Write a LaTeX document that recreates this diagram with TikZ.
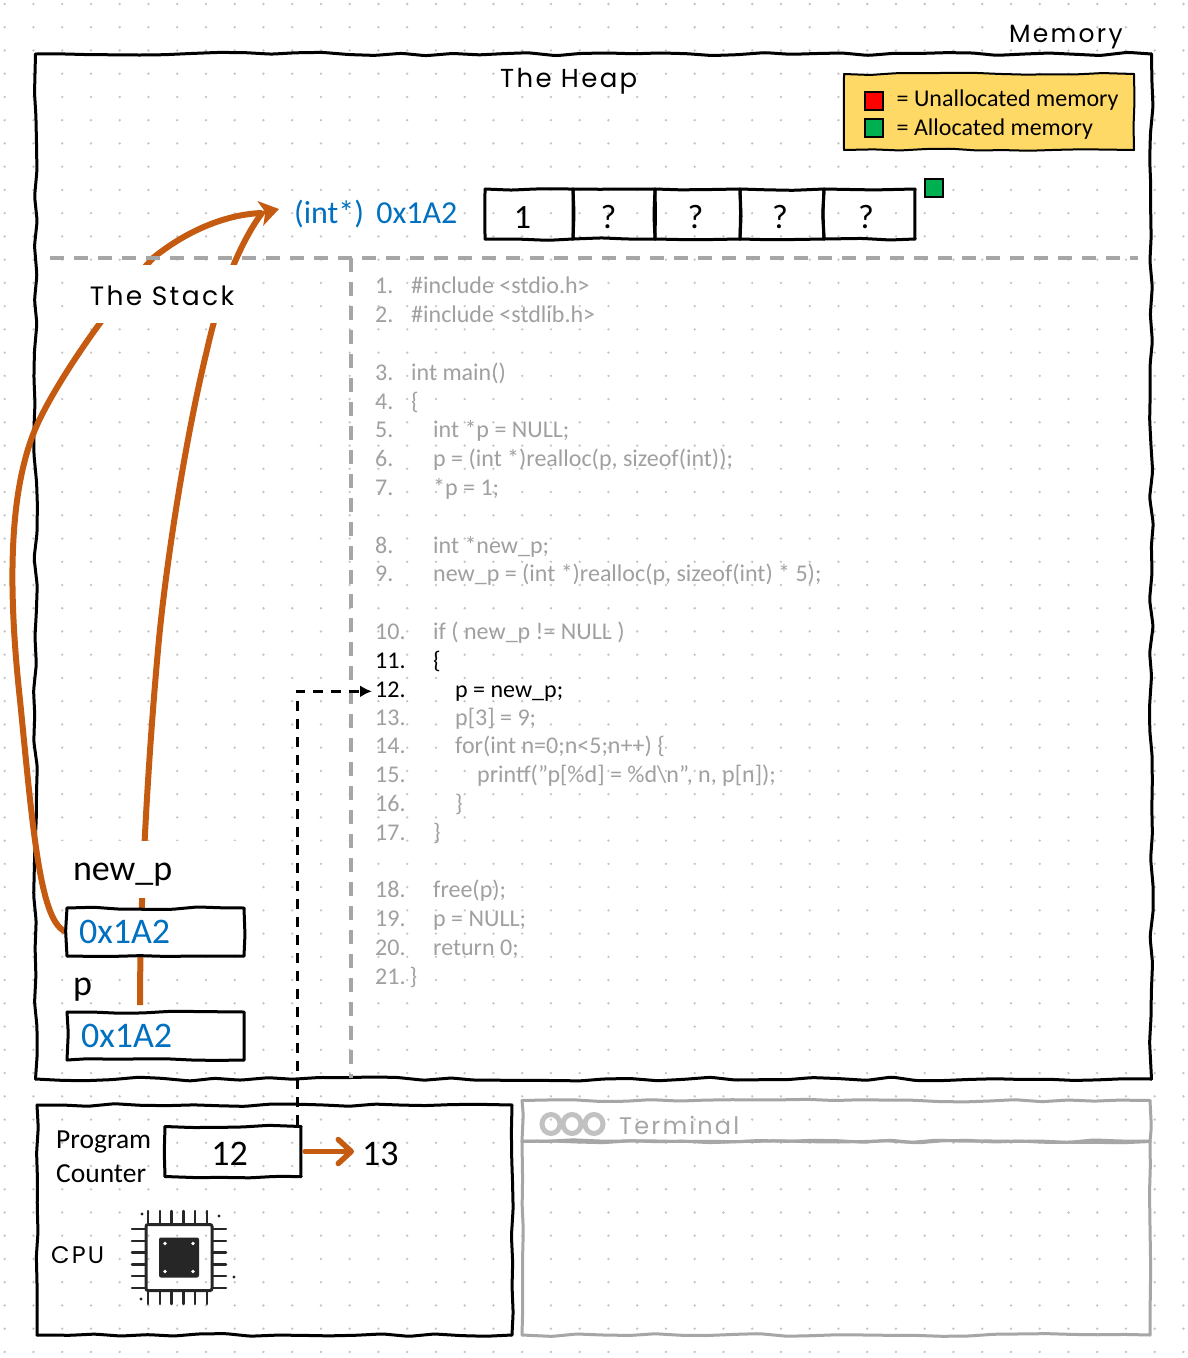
\documentclass[tikz,border=0pt]{standalone}
\usepackage{fontspec}
\setmainfont{Carlito}
\newfontfamily\sketchfont[LetterSpace=9]{Poppins}
\usetikzlibrary{arrows.meta, decorations.pathmorphing, positioning}
\definecolor{pointerorange}{HTML}{C55A11}
\definecolor{addressblue}{HTML}{0070C0}
\definecolor{dividergray}{HTML}{A6A6A6}
\definecolor{codegray}{HTML}{A0A0A0}
\definecolor{griddotgray}{HTML}{C4C4C4}
\definecolor{legendyellow}{HTML}{FFD966}
\definecolor{allocgreen}{HTML}{00B050}
\tikzstyle{griddot}=[fill=griddotgray]
\tikzstyle{wobble}=[line width=3pt, line cap=round, decorate, rounded corners=3pt,
  decoration={random steps, segment length=26pt, amplitude=1.4pt}]
\tikzstyle{sketchbox}=[inner sep=0pt, outer sep=0pt]
\tikzstyle{memcell}=[sketchbox, minimum height=50pt, text height=28pt, text depth=0pt, font=\fontsize{34}{34}\selectfont]
\tikzstyle{stackbox}=[sketchbox, fill=white, text=addressblue, align=left, text width=153pt,
  inner xsep=12pt, minimum height=48pt, font=\fontsize{36}{36}\selectfont]
\tikzstyle{sketchtext}=[inner sep=0pt, anchor=base west, font=\sketchfont\fontsize{24}{24}\selectfont]
\tikzstyle{codeline}=[inner sep=0pt, anchor=base west, font=\fontsize{24}{24}\selectfont]
\tikzstyle{pointer}=[draw=pointerorange, line width=6pt]
\tikzstyle{divider}=[draw=dividergray, line width=4pt, dash pattern=on 14pt off 10pt]
\tikzstyle{square}=[draw, line width=2pt, minimum size=18pt, inner sep=0pt]
\tikzstyle{chippin}=[line width=2.5pt, line cap=round, draw=black!85]
\newcommand{\wobbleframe}[2][]{
  \draw[wobble,#1] (#2.north west) -- (#2.north east);
  \draw[wobble,#1] (#2.north east) -- (#2.south east);
  \draw[wobble,#1] (#2.south east) -- (#2.south west);
  \draw[wobble,#1] (#2.south west) -- (#2.north west);
}
\begin{document}
\begin{tikzpicture}[x=1pt, y=-1pt]
  \pgfmathsetseed{11}
  \useasboundingbox (0,0) rectangle (1188,1358);
  \fill[white] (0,0) rectangle (1188,1358);
  \foreach \i in {0,...,41}
    \foreach \j in {0,...,58}
      \fill[griddot] ({4.7+28.75*\i},{4+23.24*\j}) circle (1.3);

  \node[sketchbox, minimum width=1116pt, minimum height=1025pt] (memory) at (593.5,566.5) {};
  \wobbleframe[decoration={amplitude=2pt}]{memory}
  \node[sketchtext, font=\sketchfont\fontsize{25}{25}\selectfont] (memorytitle) at (1009,42) {Memory};
  \node[sketchtext, font=\sketchfont\fontsize{26}{26}\selectfont] (heaptitle) at (500,87) {The Heap};

  \node[sketchbox, fill=legendyellow, minimum width=290pt, minimum height=76pt] (legend) at (989,112) {};
  \wobbleframe[line width=2pt]{legend}
  \node[square, fill=red] (redsq) at (873.5,101) {};
  \node[square, fill=allocgreen] (greensq) at (873.5,128) {};
  \node[right=13pt of redsq, yshift=1pt, inner sep=0pt, font=\fontsize{24}{24}\selectfont] (redtext) {= Unallocated memory};
  \node[right=13pt of greensq, yshift=-1pt, inner sep=0pt, font=\fontsize{24}{24}\selectfont] (greentext) {= Allocated memory};

  \node[memcell, minimum width=88pt] (cell0) at (529,214) {\hspace*{-13pt}1};
  \node[memcell, minimum width=82pt, right=0pt of cell0] (cell1) {\hspace*{-11pt}?};
  \node[memcell, minimum width=85pt, right=0pt of cell1] (cell2) {\hspace*{-4pt}?};
  \node[memcell, minimum width=84pt, right=0pt of cell2] (cell3) {\hspace*{-4pt}?};
  \node[memcell, minimum width=91pt, right=0pt of cell3] (cell4) {\hspace*{-7pt}?};
  \foreach \c in {0,...,4}
    \wobbleframe{cell\c}
  \node[square, fill=allocgreen] (allocflag) at (933.5,188) {};

  \coordinate (tip) at (279,209);
  \coordinate (tiptail) at (262,213);
  \node[right=15pt of tip, yshift=-5pt, inner sep=0pt, text=addressblue, font=\fontsize{32}{32}\selectfont] (address) {(int*)\hspace{5pt} 0x1A2};

  \coordinate (newpleft) at (67,932);
  \coordinate (pstart) at (140,1005);
  \draw[pointer] (newpleft) .. controls (40,925) and (33,830) .. (20,700)
    .. controls (8,590) and (8,490) .. (37,425)
    .. controls (55,385) and (105,310) .. (153,258)
    .. controls (190,228) and (230,214) .. (tiptail);
  \draw[pointer] (pstart) .. controls (140,900) and (148,760) .. (158,650)
    .. controls (165,570) and (185,440) .. (207,350)
    .. controls (218,300) and (238,245) .. (tiptail);
  \draw[draw=pointerorange, line width=4pt, -{Stealth[length=19pt, width=25pt, inset=5pt]}] (tiptail) -- (tip);

  \node[stackbox] (newpbox) at (155.5,932) {0x1A2};
  \wobbleframe{newpbox}
  \node[stackbox] (pbox) at (155.5,1036) {\hspace{2pt}0x1A2};
  \wobbleframe{pbox}
  \node[fill=white, minimum width=185pt, minimum height=58pt, inner sep=0pt, text height=22pt, text depth=0pt, font=\sketchfont\fontsize{26.5}{26.5}\selectfont] (stacktitle) at (162,294) {The Stack};
  \node[fill=white, text width=156pt, inner xsep=21pt, inner ysep=0pt, align=left, minimum height=57pt, text height=21pt, text depth=0pt, font=\fontsize{36}{36}\selectfont] (newplabel) at (151,869.5) {new\_p};
  \node[codeline, font=\fontsize{36}{36}\selectfont] (plabel) at (73,995) {p};

  \draw[divider] (50,258) -- (1138,258);
  \draw[divider] (351,258) -- (351,1078);

  \foreach \n/\y/\x/\txt/\col in {
    1/293/411/{\#include <stdio.h>}/codegray,
    2/322/411/{\#include <stdlib.h>}/codegray,
    3/380/411/{int main()}/codegray,
    4/409/411/{\{}/codegray,
    5/437/433/{int *p = NULL;}/codegray,
    6/466/433/{p = (int *)realloc(p, sizeof(int));}/codegray,
    7/495/433/{*p = 1;}/codegray,
    8/553/433/{int *new\_p;}/codegray,
    9/581/433/{new\_p = (int *)realloc(p, sizeof(int) * 5);}/codegray,
    10/639/433/{if ( new\_p != NULL )}/codegray,
    11/668/433/{\{}/black,
    12/697/455/{p = new\_p;}/black,
    13/725/455/{p[3] = 9;}/codegray,
    14/753/455/{for(int n=0;n<5;n++) \{}/codegray,
    15/782/477/{printf("p[\%d] = \%d\textbackslash n", n, p[n]);}/codegray,
    16/811/455/{\}}/codegray,
    17/840/433/{\}}/codegray,
    18/897/433/{free(p);}/codegray,
    19/926/433/{p = NULL;}/codegray,
    20/955/433/{return 0;}/codegray}
  {
    \node[codeline, text=\col] (num\n) at (375,\y) {\n.};
    \node[codeline, text=\col] (code\n) at (\x,\y) {\txt};
  }
  \node[codeline, text=codegray] (num21) at (375,984) {21.\,\}};

  \node[sketchbox, minimum width=475pt, minimum height=230pt] (cpubox) at (274.5,1220) {};
  \wobbleframe{cpubox}
  \node[sketchbox, minimum width=136pt, minimum height=50pt, text height=27pt, text depth=0pt, font=\fontsize{36}{36}\selectfont] (pc) at (233,1151.5) {\hspace*{-7pt}12};
  \wobbleframe{pc}
  \node[right=61pt of pc, inner sep=0pt, text height=27pt, text depth=0pt, font=\fontsize{36}{36}\selectfont] (pcnext) {13};
  \node[inner sep=0pt, align=left, anchor=north west, font=\fontsize{27.5}{34}\selectfont] (pclabel) at (56,1130.5) {Program\\Counter};
  \node[sketchtext] (cpulabel) at (51,1263) {CPU};

  \draw[draw=pointerorange, line width=5.5pt, line cap=round, -{Straight Barb[length=13pt, width=24pt, round]}, shorten >=8pt]
    (pc.east) ++(4,0) -- (pcnext.west);
  \draw[line width=3pt, dash pattern=on 10pt off 8pt, -{Latex[length=12pt, width=12pt]}, shorten >=3pt]
    (297,1125) |- ([yshift=-2pt]num12.west);

  \node[draw=black!85, line width=3pt, rounded corners=2pt, minimum size=66pt, inner sep=0pt] (chip) at (179,1257.5) {};
  \node[fill=black!85, rounded corners=2pt, minimum size=40pt, inner sep=0pt] (die) at (chip) {};
  \foreach \d in {0,11.8,23.6,35.4,47.2,59} {
    \draw[chippin] (148+\d,1223) -- ++(0,-12);
    \draw[chippin] (148+\d,1292) -- ++(0,12);
    \draw[chippin] (146,1229+\d) -- ++(-14,0);
    \draw[chippin] (212,1229+\d) -- ++(14,0);
  }
  \foreach \sx/\sy in {-14/-14,14/-14,-14/14,14/14}
    \fill[white] ([shift={(\sx,\sy)}]die.center) circle (1.8);
  \foreach \sx/\sy in {142/1214,219/1216,234/1277,141/1299}
    \fill[black!85] (\sx,\sy) circle (1.6);

  \node[sketchbox, minimum width=628pt, minimum height=41pt] (termbar) at (836,1121) {};
  \wobbleframe[draw=dividergray]{termbar}
  \node[sketchbox, minimum width=628pt, minimum height=194pt] (termbody) at (836,1238) {};
  \wobbleframe[draw=dividergray]{termbody}
  \foreach \cx in {551,572,594}
    \draw[draw=dividergray!70, line width=5pt] (\cx,1124) ellipse (9 and 9.5);
  \node[sketchtext, text=dividergray] (termtitle) at (619,1134) {Terminal};
\end{tikzpicture}
\end{document}
